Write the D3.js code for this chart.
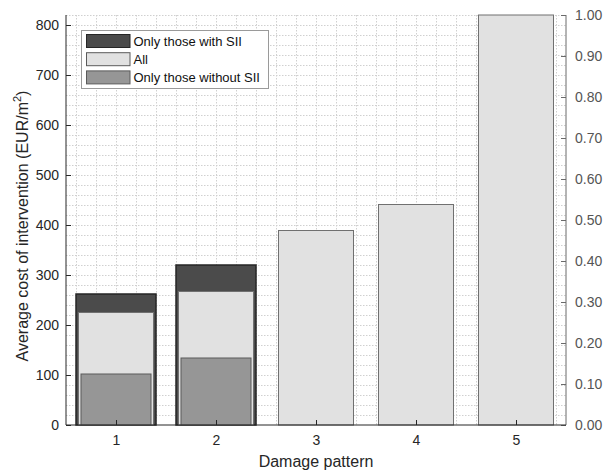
<!DOCTYPE html>
<html>
<head>
<meta charset="utf-8">
<script src="https://cdn.jsdelivr.net/npm/d3@7"></script>
<style>
  html, body { margin: 0; padding: 0; background: #fff; }
  svg { display: block; font-family: "Liberation Sans", Arial, Helvetica, sans-serif; }
</style>
</head>
<body>
<svg id="chart" width="603" height="470"></svg>
<script>
// Damage patterns on the x axis
const patterns = [1, 2, 3, 4, 5];
// Average cost of intervention (EUR/m2) per damage pattern
const withSII = [262, 320, null, null, null];
const allCases = [225, 267, 389, 441, 820];
const withoutSII = [102, 134, null, null, null];
// Tick labels
const leftTicks = [0, 100, 200, 300, 400, 500, 600, 700, 800];
const rightTicks = [0, 0.1, 0.2, 0.3, 0.4, 0.5, 0.6, 0.7, 0.8, 0.9, 1.0];
const legendLabels = ["Only those with SII", "All", "Only those without SII"];

const svg = d3.select("#chart");
const m = { left: 66, right: 566, top: 15, bottom: 425 };

const x = d3.scaleLinear().domain([0.5, 5.5]).range([m.left, m.right]);
const y = d3.scaleLinear().domain([0, 820]).range([m.bottom, m.top]);
const y2 = d3.scaleLinear().domain([0, 1]).range([m.bottom, m.top]);

// Minor grid
const grid = svg.append("g");
const xMinor = d3.range(0.6, 5.5, 0.2);
grid.selectAll("line.vx").data(xMinor).join("line")
  .attr("x1", d => Math.round(x(d)) + 0.5).attr("x2", d => Math.round(x(d)) + 0.5)
  .attr("y1", m.top).attr("y2", m.bottom)
  .attr("stroke", "#d0d0d0").attr("stroke-width", 1)
  .attr("stroke-dasharray", "1.5,1.5");
const yMinor = d3.range(20, 821, 20);
grid.selectAll("line.hy").data(yMinor).join("line")
  .attr("x1", m.left).attr("x2", m.right)
  .attr("y1", d => Math.round(y(d)) + 0.5).attr("y2", d => Math.round(y(d)) + 0.5)
  .attr("stroke", "#d0d0d0").attr("stroke-width", 1)
  .attr("stroke-dasharray", "1.5,1.5");

// Bars: drawn back to front (with SII, all, without SII)
const series = [
  { values: withSII, width: 0.8, fill: "#4b4b4b", stroke: "#262626", sw: 1.5 },
  { values: allCases, width: 0.75, fill: "#e1e1e1", stroke: "#707070", sw: 1 },
  { values: withoutSII, width: 0.7, fill: "#969696", stroke: "#5a5a5a", sw: 1 }
];
series.forEach(s => {
  const data = patterns.map((p, i) => ({ p, v: s.values[i] })).filter(d => d.v != null);
  svg.append("g").selectAll("rect").data(data).join("rect")
    .attr("x", d => x(d.p - s.width / 2))
    .attr("width", d => x(d.p + s.width / 2) - x(d.p - s.width / 2))
    .attr("y", d => y(d.v))
    .attr("height", d => y(0) - y(d.v))
    .attr("fill", s.fill)
    .attr("stroke", s.stroke)
    .attr("stroke-width", s.sw);
});

// Axes
const tickColor = "#262626";
const leftAxis = svg.append("g").attr("transform", `translate(${m.left},0)`)
  .call(d3.axisLeft(y).tickValues(leftTicks).tickSize(-5).tickPadding(7).tickFormat(d3.format("d")));
leftAxis.select(".domain").attr("stroke", tickColor).attr("d", `M0,${m.top}V${m.bottom}`);
leftAxis.selectAll(".tick line").attr("stroke", tickColor);
leftAxis.selectAll("text").attr("font-size", 14).attr("fill", tickColor);

const rightAxis = svg.append("g").attr("transform", `translate(${m.right},0)`)
  .call(d3.axisRight(y2).tickValues(rightTicks).tickSize(-5).tickPadding(9).tickFormat(d3.format(".2f")));
rightAxis.select(".domain").attr("stroke", "#6a6a6a").attr("d", `M0,${m.top}V${m.bottom}`);
rightAxis.selectAll(".tick line").attr("stroke", "#6a6a6a");
rightAxis.selectAll("text").attr("font-size", 14).attr("fill", "#555");

const bottomAxis = svg.append("g").attr("transform", `translate(0,${m.bottom})`)
  .call(d3.axisBottom(x).tickValues(patterns).tickSize(-5).tickPadding(10).tickFormat(d3.format("d")));
bottomAxis.select(".domain").attr("stroke", tickColor).attr("d", `M${m.left},0H${m.right}`);
bottomAxis.selectAll(".tick line").attr("stroke", tickColor);
bottomAxis.selectAll("text").attr("font-size", 14).attr("fill", tickColor);

// Axis titles
svg.append("text")
  .attr("x", (m.left + m.right) / 2).attr("y", 467)
  .attr("text-anchor", "middle").attr("font-size", 16).attr("fill", tickColor)
  .text("Damage pattern");

const yTitle = svg.append("text")
  .attr("transform", `translate(28,${(m.top + m.bottom) / 2 + 6}) rotate(-90)`)
  .attr("text-anchor", "middle").attr("font-size", 16).attr("fill", tickColor);
yTitle.append("tspan").text("Average cost of intervention (EUR/m");
yTitle.append("tspan").attr("dy", -7).attr("font-size", 11).text("2");
yTitle.append("tspan").attr("dy", 7).text(")");

// Legend
const legend = svg.append("g");
legend.append("rect")
  .attr("x", 81.5).attr("y", 30.5).attr("width", 187).attr("height", 58)
  .attr("fill", "#fff").attr("stroke", "#9a9a9a").attr("stroke-width", 1);
legendLabels.forEach((label, i) => {
  const s = series[i];
  const ry = 34.5 + i * 18.2;
  legend.append("rect")
    .attr("x", 86.5).attr("y", ry).attr("width", 43.5).attr("height", 13)
    .attr("fill", s.fill).attr("stroke", i === 0 ? "#262626" : "#5a5a5a").attr("stroke-width", 1);
  legend.append("text")
    .attr("x", 133.5).attr("y", ry + 11.5)
    .attr("font-size", 13).attr("fill", "#111")
    .text(label);
});
</script>
</body>
</html>
